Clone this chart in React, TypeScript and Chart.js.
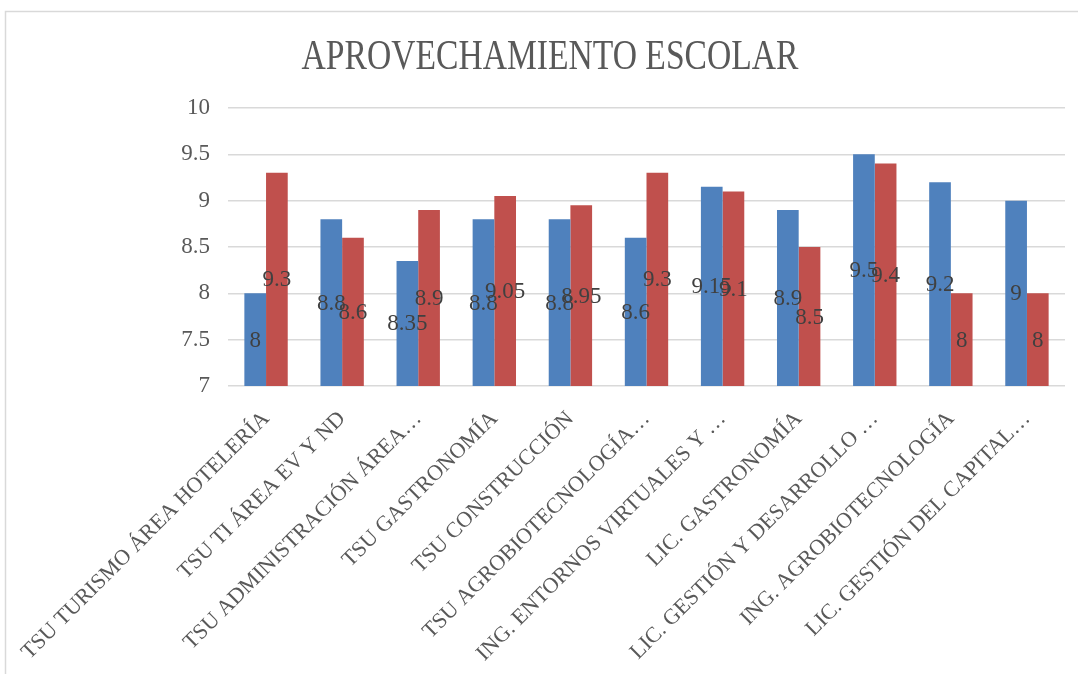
import React, { useEffect, useRef } from "react";
import { Chart, registerables } from "chart.js";

Chart.register(...registerables);

const TITLE = "APROVECHAMIENTO ESCOLAR";
const categories = [
  "TSU TURISMO ÁREA HOTELERÍA",
  "TSU TI ÁREA EV Y ND",
  "TSU ADMINISTRACIÓN ÁREA…",
  "TSU GASTRONOMÍA",
  "TSU CONSTRUCCIÓN",
  "TSU AGROBIOTECNOLOGÍA…",
  "ING. ENTORNOS VIRTUALES Y …",
  "LIC. GASTRONOMÍA",
  "LIC. GESTIÓN Y DESARROLLO …",
  "ING. AGROBIOTECNOLOGÍA",
  "LIC. GESTIÓN DEL CAPITAL…",
];
const seriesBlue = [8, 8.8, 8.35, 8.8, 8.8, 8.6, 9.15, 8.9, 9.5, 9.2, 9];
const seriesRed = [9.3, 8.6, 8.9, 9.05, 8.95, 9.3, 9.1, 8.5, 9.4, 8, 8];
const yMin = 7;
const yMax = 10;
const yStep = 0.5;

const FONT = "'Liberation Serif', 'Times New Roman', serif";

const framePlugin = {
  id: "frameAndTitle",
  beforeDraw(chart: any) {
    const ctx = chart.ctx;
    ctx.save();
    ctx.fillStyle = "#ffffff";
    ctx.fillRect(0, 0, chart.width, chart.height);
    ctx.strokeStyle = "#D9D9D9";
    ctx.lineWidth = 1.5;
    ctx.strokeRect(5.5, 11.5, chart.width + 20, chart.height + 20);
    ctx.restore();
  },
  afterDraw(chart: any) {
    const ctx = chart.ctx;
    ctx.save();
    ctx.fillStyle = "#595959";
    ctx.font = `42px ${FONT}`;
    ctx.textAlign = "center";
    ctx.textBaseline = "alphabetic";
    ctx.translate(550, 69);
    ctx.scale(0.8, 1);
    ctx.fillText(TITLE, 0, 0);
    ctx.restore();
  },
};

const labelPlugin = {
  id: "centerLabels",
  afterDatasetsDraw(chart: any) {
    const ctx = chart.ctx;
    const yScale = chart.scales.y;
    ctx.save();
    ctx.fillStyle = "#404040";
    ctx.font = `23px ${FONT}`;
    ctx.textAlign = "center";
    ctx.textBaseline = "middle";
    chart.data.datasets.forEach((ds: any, i: number) => {
      const meta = chart.getDatasetMeta(i);
      meta.data.forEach((bar: any, j: number) => {
        const v = ds.data[j];
        const y = yScale.getPixelForValue((v + yMin) / 2);
        ctx.fillText(String(v), bar.x, y + 1);
      });
    });
    ctx.restore();
  },
};

export default function App() {
  const ref = useRef<HTMLCanvasElement | null>(null);
  useEffect(() => {
    if (!ref.current) return;
    const chart = new Chart(ref.current, {
      type: "bar",
      data: {
        labels: categories,
        datasets: [
          {
            label: "Serie 1",
            data: seriesBlue,
            backgroundColor: "#4F81BD",
            categoryPercentage: 0.57,
            barPercentage: 1.0,
          },
          {
            label: "Serie 2",
            data: seriesRed,
            backgroundColor: "#C0504D",
            categoryPercentage: 0.57,
            barPercentage: 1.0,
          },
        ],
      },
      options: {
        responsive: false,
        animation: false,
        devicePixelRatio: 1,
        layout: { padding: { top: 108, right: 13, bottom: 0, left: 0 } },
        plugins: {
          legend: { display: false },
          title: { display: false },
          tooltip: { enabled: false },
        },
        scales: {
          x: {
            grid: { display: false, drawTicks: false },
            border: { display: false },
            ticks: {
              autoSkip: false,
              minRotation: 45,
              maxRotation: 45,
              padding: 20,
              color: "#595959",
              font: { family: FONT, size: 22 },
            },
            afterFit(scale: any) {
              scale.height = 288;
              scale.paddingLeft = 0;
              scale.paddingRight = 0;
            },
          },
          y: {
            min: yMin,
            max: yMax,
            grid: { color: "#D9D9D9", lineWidth: 1.5, drawTicks: false },
            border: { display: false },
            ticks: {
              stepSize: yStep,
              padding: 18,
              color: "#595959",
              font: { family: FONT, size: 23 },
              callback: (v: any) => String(Number(v)),
            },
            afterFit(scale: any) {
              scale.width = 228;
              scale.paddingTop = 0;
              scale.paddingBottom = 0;
            },
          },
        },
      },
      plugins: [framePlugin, labelPlugin],
    } as any);
    return () => chart.destroy();
  }, []);
  return (
    <div style={{ position: "fixed", left: 0, top: 0, width: 1078, height: 674, background: "#fff" }}>
      <canvas ref={ref} width={1078} height={674} />
    </div>
  );
}
